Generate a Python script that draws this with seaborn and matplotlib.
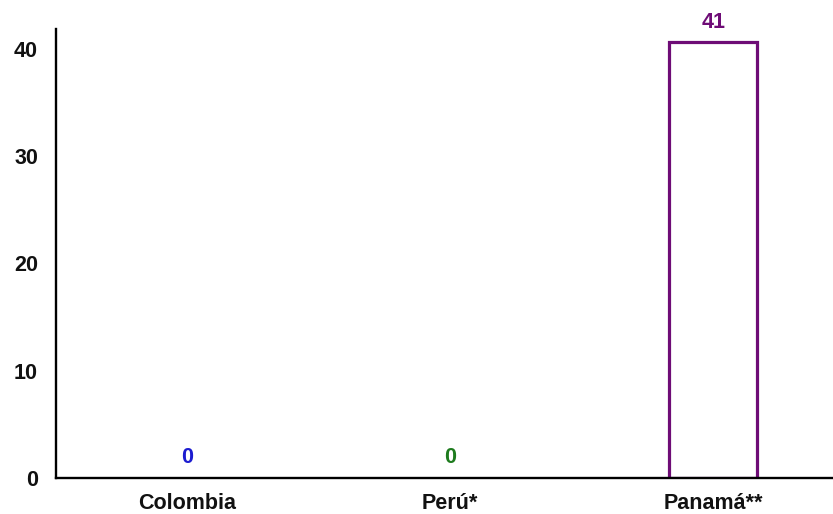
import matplotlib
matplotlib.use("Agg")
import matplotlib.pyplot as plt
import seaborn as sns
import pandas as pd

countries = ["Colombia", "Perú*", "Panamá**"]
values = [0, 0, 40.6]
colors = ["#1c1cd0", "#1e7b1e", "#6e0c76"]
yticks = [0, 10, 20, 30, 40]

sns.set_theme(style="white")
plt.rcParams["font.family"] = ["Liberation Sans", "DejaVu Sans"]
plt.rcParams["font.weight"] = "bold"

df = pd.DataFrame({"country": countries, "value": values})

fig = plt.figure(figsize=(8.33, 5.14), dpi=100)
ax = fig.add_axes([56 / 833, 36 / 514, 1 - 56 / 833, (478 - 29) / 514])

sns.barplot(data=df, x="country", y="value", hue="country", palette=colors,
            fill=False, width=0.335, linewidth=2.3, legend=False, ax=ax,
            errorbar=None)

for patch, v in zip(ax.patches, values):
    if v == 0:
        patch.set_linewidth(0)

for cont, c in zip(ax.containers, colors):
    ax.bar_label(cont, fmt="{:.0f}", padding=7, color=c, fontsize=15.5,
                 fontweight="bold")

ax.set_xlim(-0.5, 2.456)
ax.set_ylim(0, 41.85)
ax.set_yticks(yticks)
ax.set_xlabel("")
ax.set_ylabel("")
ax.tick_params(axis="both", length=0, labelsize=15.5)
ax.tick_params(axis="y", pad=13)
ax.tick_params(axis="x", pad=11)
for lab in ax.get_xticklabels() + ax.get_yticklabels():
    lab.set_fontweight("bold")
    lab.set_color("#111111")

for s in ["top", "right"]:
    ax.spines[s].set_visible(False)
for s in ["left", "bottom"]:
    ax.spines[s].set_color("black")
    ax.spines[s].set_linewidth(1.7)

fig.savefig("out.png", dpi=100, facecolor="white")
